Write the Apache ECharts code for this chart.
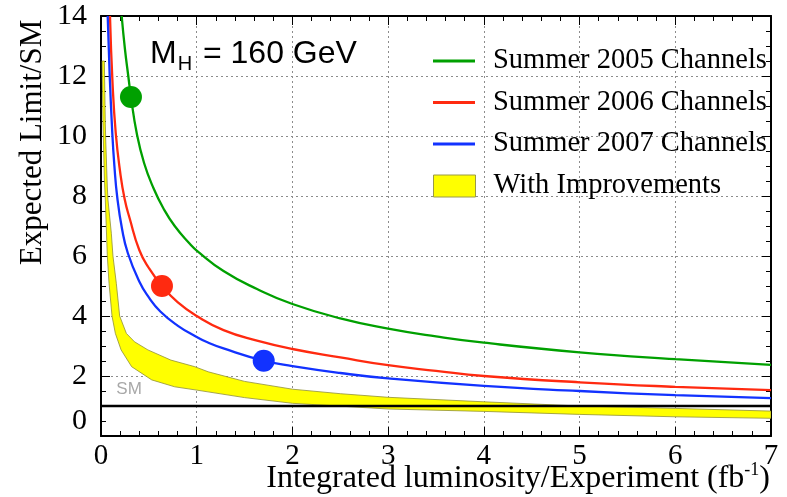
<!DOCTYPE html>
<html>
<head>
<meta charset="utf-8">
<script src="https://cdn.jsdelivr.net/npm/echarts@6/dist/echarts.min.js"></script>
<style>
  html, body { margin: 0; padding: 0; background: #ffffff; }
  #chart { width: 787px; height: 497px; }
</style>
</head>
<body>
<div id="chart"></div>
<script>
// Expected 95% CL limit (in units of the SM cross section) vs. integrated luminosity per experiment

// Summer 2005 channels
const lumi2005  = [0.216, 0.25, 0.285, 0.313, 0.373, 0.45, 0.55, 0.65, 0.77, 0.93, 1.0, 1.28, 1.63, 2.0, 2.5, 3.0, 3.5, 4.0, 5.0, 6.0, 7.0];
const limit2005 = [14.0, 12.9, 12.0, 11.3, 10.1, 9.1, 8.25, 7.6, 7.0, 6.4, 6.18, 5.5, 4.9, 4.4, 3.92, 3.58, 3.32, 3.11, 2.79, 2.56, 2.37];

// Summer 2006 channels
const lumi2006  = [0.094, 0.12, 0.154, 0.2, 0.247, 0.3, 0.4, 0.5, 0.637, 0.8, 1.0, 1.28, 1.63, 2.0, 2.5, 3.0, 3.5, 4.0, 5.0, 6.0, 7.0];
const limit2006 = [14.0, 11.8, 10.1, 8.8, 7.9, 7.25, 6.2, 5.6, 5.0, 4.46, 4.0, 3.53, 3.18, 2.9, 2.62, 2.36, 2.17, 2.0, 1.79, 1.64, 1.53];

// Summer 2007 channels
const lumi2007  = [0.07, 0.09, 0.118, 0.14, 0.17, 0.22, 0.28, 0.4, 0.5, 0.62, 0.8, 1.0, 1.1, 1.28, 1.7, 2.0, 2.5, 3.0, 4.0, 5.0, 6.0, 7.0];
const limit2007 = [14.0, 12.1, 10.1, 9.0, 7.95, 6.9, 6.1, 5.15, 4.62, 4.15, 3.68, 3.3, 3.14, 2.92, 2.51, 2.33, 2.1, 1.92, 1.67, 1.5, 1.36, 1.26];

// Projected range with analysis improvements: upper and lower edges
const bandUpperLumi = [0.012, 0.035, 0.045, 0.05, 0.066, 0.073, 0.108, 0.125, 0.16, 0.195, 0.265, 0.35, 0.49, 0.73, 0.98, 1.12, 1.5, 2.0, 2.5, 3.0, 4.0, 5.0, 6.0, 7.0];
const bandUpper     = [12.5, 12.5, 10.4, 9.8, 8.3, 7.87, 6.76, 6.0, 5.09, 4.0, 3.42, 3.14, 2.87, 2.53, 2.31, 2.14, 1.82, 1.56, 1.41, 1.29, 1.14, 1.0, 0.92, 0.83];
const bandLowerLumi = [0.012, 0.02, 0.035, 0.045, 0.066, 0.084, 0.115, 0.15, 0.21, 0.32, 0.53, 0.77, 1.0, 1.5, 2.0, 3.0, 4.0, 5.0, 6.0, 7.0];
const bandLower     = [12.5, 10.5, 8.6, 7.87, 6.0, 5.09, 4.0, 3.42, 2.87, 2.31, 1.87, 1.64, 1.53, 1.28, 1.09, 0.9, 0.82, 0.72, 0.64, 0.59];

// Luminosity reached at each summer conference, with its expected limit
const point2005 = [0.313, 11.3];
const point2006 = [0.637, 5.0];
const point2007 = [1.7, 2.51];

// Standard Model reference level
const smLevel = 1;
const lumiRange = [0, 7];
const limitRange = [0, 14];

const names = ['Summer 2005 Channels', 'Summer 2006 Channels', 'Summer 2007 Channels', 'With Improvements'];
const colors = ['#00a000', '#ff2a10', '#1232ff'];

const SERIF = '"Liberation Serif", "Times New Roman", serif';
const SANS = '"Liberation Sans", Arial, sans-serif';

const pair = (xs, ys) => xs.map((x, i) => [x, ys[i]]);

const chart = echarts.init(document.getElementById('chart'), null, { renderer: 'canvas' });

const frame = { show: true, onZero: false, lineStyle: { color: '#000', width: 2 } };
const tick = { show: true, inside: true, length: 9, lineStyle: { color: '#000', width: 1 } };
const dotted = { show: true, lineStyle: { color: '#8c8c8c', width: 1, type: [2, 3] } };

function xAxisDef(pos, main) {
  return {
    type: 'value', position: pos, min: lumiRange[0], max: lumiRange[1], interval: 1,
    axisLine: frame, axisTick: tick,
    minorTick: { show: true, splitNumber: 5, length: 5, lineStyle: { color: '#000', width: 1 } },
    splitLine: main ? dotted : { show: false },
    axisLabel: main ? { fontFamily: SERIF, fontSize: 29, color: '#000', margin: 6 } : { show: false }
  };
}
function yAxisDef(pos, main) {
  return {
    type: 'value', position: pos, min: limitRange[0], max: limitRange[1], interval: 2,
    axisLine: frame, axisTick: tick,
    minorTick: { show: true, splitNumber: 4, length: 5, lineStyle: { color: '#000', width: 1 } },
    splitLine: main ? dotted : { show: false },
    axisLabel: main ? {
      fontFamily: SERIF, fontSize: 30, color: '#000', margin: 14,
      formatter: v => (v === 0 ? '{z|0}' : String(v)),
      rich: { z: { fontFamily: SERIF, fontSize: 30, color: '#000', padding: [0, 0, 30, 0] } }
    } : { show: false }
  };
}

function lineSeries(i, xs, ys) {
  return {
    name: names[i], type: 'line', data: pair(xs, ys),
    smooth: 0.5, symbol: 'none', clip: true, z: 4,
    lineStyle: { color: colors[i], width: 2.3 }, itemStyle: { color: colors[i] }
  };
}
function pointSeries(i, p) {
  return {
    name: names[i] + ' point', type: 'scatter', data: [p], symbol: 'circle', symbolSize: 22,
    itemStyle: { color: colors[i], opacity: 1 }, z: 6, silent: true
  };
}

const bandSeries = {
  name: names[3], type: 'custom', z: 2, clip: true,
  data: pair(bandUpperLumi, bandUpper),
  itemStyle: { color: '#ffff00', borderColor: '#8f8f3a' },
  renderItem: function (params, api) {
    if (params.dataIndex !== 0) return null;
    const pts = [];
    for (let i = 0; i < bandUpperLumi.length; i++) pts.push(api.coord([bandUpperLumi[i], bandUpper[i]]));
    for (let i = bandLowerLumi.length - 1; i >= 0; i--) pts.push(api.coord([bandLowerLumi[i], bandLower[i]]));
    return {
      type: 'polygon',
      shape: { points: pts },
      style: { fill: '#ffff00', stroke: '#8f8f3a', lineWidth: 0.8 }
    };
  }
};

const legendText = { fontFamily: SERIF, fontSize: 28.5, color: '#000', lineHeight: 30, padding: [0, 0, 0, 13] };

const option = {
  animation: false,
  backgroundColor: '#ffffff',
  grid: { left: 101, right: 16, top: 16, bottom: 61 },
  xAxis: [xAxisDef('bottom', true), xAxisDef('top', false)],
  yAxis: [yAxisDef('left', true), yAxisDef('right', false)],
  legend: [
    {
      data: names.slice(0, 3), orient: 'vertical', left: 428, top: 41,
      icon: 'rect', itemWidth: 42, itemHeight: 3, itemGap: 11.5,
      itemStyle: { borderWidth: 0 }, textStyle: legendText, selectedMode: false
    },
    {
      data: [names[3]], orient: 'vertical', left: 428, top: 166,
      icon: 'rect', itemWidth: 42, itemHeight: 22,
      itemStyle: { color: '#ffff00', borderColor: '#9a9a48', borderWidth: 1 },
      textStyle: legendText, selectedMode: false
    }
  ],
  series: [
    bandSeries,
    {
      name: 'SM', type: 'line', data: [[lumiRange[0], smLevel], [lumiRange[1], smLevel]],
      symbol: 'none', z: 5, silent: true,
      lineStyle: { color: '#000', width: 2.5 }
    },
    lineSeries(0, lumi2005, limit2005),
    lineSeries(1, lumi2006, limit2006),
    lineSeries(2, lumi2007, limit2007),
    pointSeries(0, point2005),
    pointSeries(1, point2006),
    pointSeries(2, point2007)
  ]
};
chart.setOption(option);

// Annotations: SM reference label, mass label and axis titles
const smPos = chart.convertToPixel({ gridIndex: 0 }, [0.16, smLevel]);
chart.setOption({
  graphic: [
    {
      type: 'text', x: smPos[0], y: smPos[1] - 8,
      style: { text: 'SM', fontFamily: SANS, fontSize: 17, fill: '#a8a8a8', align: 'left', verticalAlign: 'bottom' }
    },
    {
      type: 'text', x: 150, y: 38,
      style: {
        text: '{m|M}{s|H}{m| = 160 GeV}',
        align: 'left', verticalAlign: 'top',
        rich: {
          m: { fontFamily: SANS, fontSize: 32, color: '#000', lineHeight: 36, verticalAlign: 'top' },
          s: { fontFamily: SANS, fontSize: 20, color: '#000', lineHeight: 20, verticalAlign: 'bottom', padding: [19, 2, 0, 1] }
        }
      }
    },
    {
      type: 'text', x: 33, y: 142.5, rotation: Math.PI / 2,
      style: { text: 'Expected Limit/SM', fontFamily: SERIF, fontSize: 31, fill: '#000', align: 'center', verticalAlign: 'middle' }
    },
    {
      type: 'text', x: 770, y: 495,
      style: {
        text: '{t|Integrated luminosity/Experiment (fb}{u|-1}{t|)}',
        align: 'right', verticalAlign: 'bottom',
        rich: {
          t: { fontFamily: SERIF, fontSize: 32, color: '#000', lineHeight: 34, verticalAlign: 'bottom' },
          u: { fontFamily: SERIF, fontSize: 18, color: '#000', lineHeight: 18, verticalAlign: 'top' }
        }
      }
    }
  ]
});
</script>
</body>
</html>
